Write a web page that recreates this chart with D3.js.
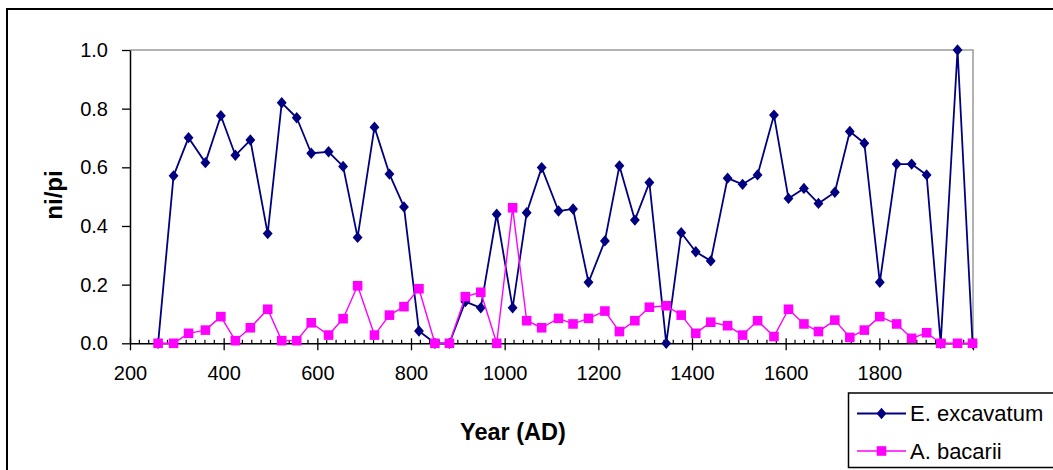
<!DOCTYPE html>
<html>
<head>
<meta charset="utf-8">
<script src="https://cdn.jsdelivr.net/npm/d3@7"></script>
<style>
  html, body { margin: 0; padding: 0; background: #fff; }
  svg { display: block; }
  text { font-family: "Liberation Sans", Arial, sans-serif; fill: #000; }
</style>
</head>
<body>
<svg id="chart" width="1053" height="470"></svg>
<script>
// Sample ages (years AD)
const years = [260, 293, 325, 361, 394, 425, 457, 494, 524, 556, 587, 624, 655, 686, 722, 754, 785, 817,
  851, 882, 916, 949, 983, 1017, 1047, 1079, 1115, 1146, 1179, 1214, 1245, 1278, 1309, 1345, 1377, 1408,
  1440, 1476, 1508, 1540, 1575, 1606, 1639, 1670, 1705, 1737, 1768, 1801, 1837, 1869, 1901, 1931, 1967, 1999];

// ni/pi for Elphidium excavatum
const excavatum = [0, 0.571, 0.701, 0.616, 0.776, 0.641, 0.693, 0.374, 0.820, 0.769, 0.648, 0.653, 0.603, 0.361,
  0.737, 0.577, 0.465, 0.042, 0, 0, 0.142, 0.121, 0.440, 0.121, 0.445, 0.599, 0.451, 0.458, 0.208, 0.349,
  0.605, 0.420, 0.548, 0, 0.377, 0.312, 0.281, 0.563, 0.542, 0.574, 0.778, 0.494, 0.528, 0.477, 0.515,
  0.722, 0.682, 0.208, 0.611, 0.611, 0.574, 0, 1.0, 0];

// ni/pi for Ammonia bacarii
const bacarii = [0, 0, 0.034, 0.045, 0.091, 0.009, 0.053, 0.116, 0.009, 0.009, 0.070, 0.028, 0.084, 0.196,
  0.028, 0.096, 0.125, 0.186, 0, 0, 0.159, 0.174, 0, 0.462, 0.077, 0.053, 0.085, 0.066, 0.085, 0.110,
  0.040, 0.077, 0.123, 0.128, 0.096, 0.034, 0.072, 0.060, 0.028, 0.077, 0.023, 0.116, 0.066, 0.040,
  0.079, 0.020, 0.045, 0.091, 0.066, 0.017, 0.036, 0, 0, 0];

const seriesNames = ["E. excavatum", "A. bacarii"];
const xTickValues = [200, 400, 600, 800, 1000, 1200, 1400, 1600, 1800];
const yTickValues = [0, 0.2, 0.4, 0.6, 0.8, 1.0];
const xTitle = "Year (AD)";
const yTitle = "ni/pi";

const svg = d3.select("#chart");
const plot = { left: 130, right: 973, top: 50, bottom: 343.3 };

const x = d3.scaleLinear().domain([200, 2000]).range([plot.left, plot.right]);
const y = d3.scaleLinear().domain([0, 1]).range([plot.bottom, plot.top]);

// outer chart frame
svg.append("rect")
  .attr("x", 7).attr("y", 9).attr("width", 1100).attr("height", 520)
  .attr("fill", "none").attr("stroke", "#000").attr("stroke-width", 2);

// plot area border (top and right in grey)
svg.append("path")
  .attr("d", `M${plot.left},${plot.top}H${plot.right}V${plot.bottom}`)
  .attr("fill", "none").attr("stroke", "#9a9a9a").attr("stroke-width", 1.5);

// minor x ticks every 20 years, pointing into the plot
const minor = d3.range(220, 2000, 20).filter(v => v % 200 !== 0);
svg.append("g").selectAll("line").data(minor).join("line")
  .attr("x1", d => x(d)).attr("x2", d => x(d))
  .attr("y1", plot.bottom - 3.5).attr("y2", plot.bottom)
  .attr("stroke", "#000").attr("stroke-width", 1.2);

// x axis
const gx = svg.append("g").attr("transform", `translate(0,${plot.bottom})`)
  .call(d3.axisBottom(x).tickValues(xTickValues.concat([2000])).tickFormat(d => d === 2000 ? "" : d3.format("d")(d))
    .tickSizeInner(7).tickSizeOuter(0).tickPadding(16));
gx.select(".domain").attr("stroke", "#000").attr("stroke-width", 1.5);
gx.selectAll(".tick line").attr("y1", -5).attr("stroke", "#000").attr("stroke-width", 1.3);
gx.selectAll(".tick text").attr("font-size", 20).attr("font-family", "Liberation Sans, Arial, sans-serif").attr("fill", "#000");

// y axis
const gy = svg.append("g").attr("transform", `translate(${plot.left},0)`)
  .call(d3.axisLeft(y).tickValues(yTickValues).tickFormat(d3.format(".1f"))
    .tickSizeInner(8).tickSizeOuter(0).tickPadding(14));
gy.select(".domain").attr("stroke", "#000").attr("stroke-width", 1.5);
gy.selectAll(".tick line").attr("stroke", "#000").attr("stroke-width", 1.3);
gy.selectAll(".tick text").attr("font-size", 20).attr("font-family", "Liberation Sans, Arial, sans-serif").attr("fill", "#000");

// axis titles
svg.append("text")
  .attr("x", 513).attr("y", 440).attr("text-anchor", "middle")
  .attr("font-size", 23.5).attr("font-weight", "bold").text(xTitle);
svg.append("text")
  .attr("transform", "translate(62,195) rotate(-90)").attr("text-anchor", "middle")
  .attr("font-size", 24).attr("font-weight", "bold").text(yTitle);

const line = d3.line().x(d => x(d[0])).y(d => y(d[1]));
const diamond = d3.symbol().type(d3.symbolDiamond2).size(62);
const square = d3.symbol().type(d3.symbolSquare).size(92);

const exData = years.map((yr, i) => [yr, excavatum[i]]);
const baData = years.map((yr, i) => [yr, bacarii[i]]);

// E. excavatum series
svg.append("path").datum(exData).attr("d", line)
  .attr("fill", "none").attr("stroke", "#000080").attr("stroke-width", 1.8).attr("stroke-linejoin", "round");
svg.append("g").selectAll("path").data(exData).join("path")
  .attr("transform", d => `translate(${x(d[0])},${y(d[1])}) scale(1,1.15)`)
  .attr("d", diamond).attr("fill", "#000080");

// A. bacarii series
svg.append("path").datum(baData).attr("d", line)
  .attr("fill", "none").attr("stroke", "#ff00ff").attr("stroke-width", 1.4).attr("stroke-linejoin", "round");
svg.append("g").selectAll("path").data(baData).join("path")
  .attr("transform", d => `translate(${x(d[0])},${y(d[1])})`)
  .attr("d", square).attr("fill", "#ff00ff");

// legend
const lg = svg.append("g");
lg.append("rect").attr("x", 848.5).attr("y", 393).attr("width", 210).attr("height", 74.5)
  .attr("fill", "#fff").attr("stroke", "#000").attr("stroke-width", 1.5);
const items = [
  { name: seriesNames[0], color: "#000080", sym: diamond, sw: 1.8, ty: 413.5, s: "scale(1,1.15)" },
  { name: seriesNames[1], color: "#ff00ff", sym: square, sw: 1.4, ty: 451, s: "" }
];
items.forEach(it => {
  lg.append("line").attr("x1", 857).attr("x2", 906).attr("y1", it.ty).attr("y2", it.ty)
    .attr("stroke", it.color).attr("stroke-width", it.sw);
  lg.append("path").attr("transform", `translate(881.5,${it.ty}) ${it.s}`).attr("d", it.sym).attr("fill", it.color);
  lg.append("text").attr("x", 910).attr("y", it.ty + 7.5).attr("font-size", 22).text(it.name);
});
</script>
</body>
</html>
